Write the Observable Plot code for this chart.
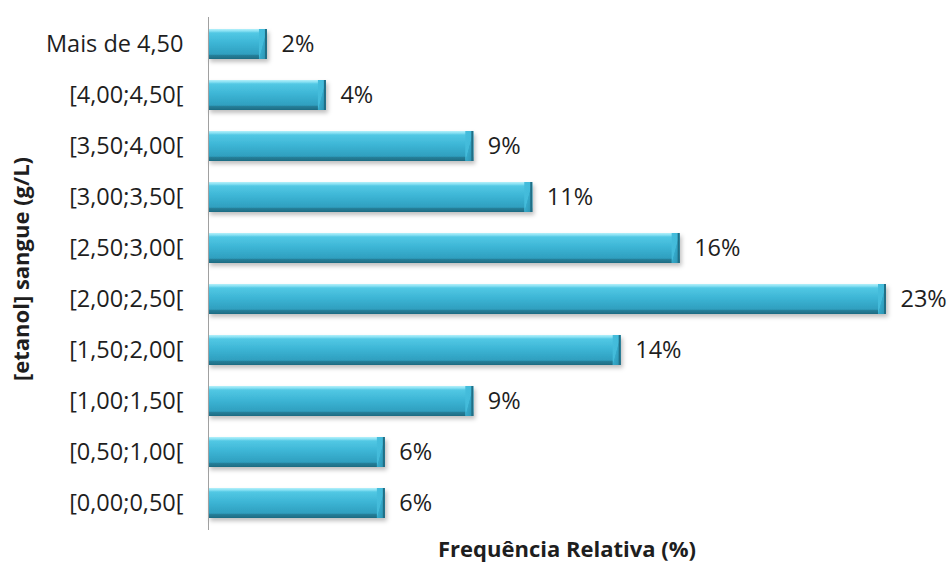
<!DOCTYPE html>
<html>
<head>
<meta charset="utf-8">
<script src="https://cdn.jsdelivr.net/npm/d3@7"></script>
<script src="https://cdn.jsdelivr.net/npm/@observablehq/plot@0.6"></script>
<style>
  body { margin: 0; background: #fff; }
  #chart svg { display: block; }
</style>
</head>
<body>
<div id="chart"></div>
<script>
// Blood ethanol concentration classes (g/L), top to bottom
const classes = [
  "Mais de 4,50",
  "[4,00;4,50[",
  "[3,50;4,00[",
  "[3,00;3,50[",
  "[2,50;3,00[",
  "[2,00;2,50[",
  "[1,50;2,00[",
  "[1,00;1,50[",
  "[0,50;1,00[",
  "[0,00;0,50["
];
// Relative frequency (%) per class
const frequencies = [2, 4, 9, 11, 16, 23, 14, 9, 6, 6];

const xTitle = "Frequência Relativa (%)";
const yTitle = "[etanol] sangue (g/L)";

const data = classes.map((c, i) => ({classe: c, freq: frequencies[i]}));

const font = "'Open Sans', sans-serif";
const fs = 23.5;   // tick and value labels
const fsTitle = 22; // axis titles

const chart = Plot.plot({
  width: 950,
  height: 565,
  marginLeft: 208,
  marginRight: 64,
  marginTop: 17,
  marginBottom: 35,
  style: {fontFamily: font, fontSize: fs + "px", color: "#1e1e1e", background: "#fff"},
  x: {domain: [0, 23], axis: null},
  y: {domain: classes, paddingInner: 0.41, paddingOuter: 0.205, label: null},
  marks: [
    // bar body with bevelled vertical shading
    Plot.barX(data, {y: "classe", x: "freq", fill: "url(#barBody)"}),
    // bevelled right-hand end
    Plot.barX(data, {y: "classe", x1: "freq", x2: "freq", insetLeft: -8, fill: "url(#barCap)"}),
    Plot.barX(data, {y: "classe", x1: "freq", x2: "freq", insetLeft: -2, fill: "#216f86"}),
    Plot.ruleX([0], {stroke: "#a0a0a0", strokeWidth: 1}),
    Plot.axisY({tickSize: 0, tickPadding: 25, fontSize: fs, label: null}),
    Plot.text(data, {
      y: "classe", x: "freq", text: d => `${d.freq}%`,
      textAnchor: "start", dx: 14, fontSize: fs, fill: "#1e1e1e"
    })
  ]
});

// gradients and drop shadow for the bars
const svg = d3.select(chart);
const defs = svg.insert("defs", ":first-child");

const body = defs.append("linearGradient")
  .attr("id", "barBody").attr("x1", 0).attr("y1", 0).attr("x2", 0).attr("y2", 1);
[
  [0, "#b4f0fa"], [0.07, "#86e0f3"], [0.13, "#52c8e4"], [0.45, "#3db6d6"],
  [0.84, "#2f9fbf"], [0.88, "#257f99"], [1, "#1e6b82"]
].forEach(([o, c]) => body.append("stop").attr("offset", o).attr("stop-color", c));

const cap = defs.append("linearGradient")
  .attr("id", "barCap").attr("x1", 0).attr("y1", 0).attr("x2", 1).attr("y2", 1);
[
  [0, "#45bddc"], [0.48, "#43bbda"], [0.52, "#35a9ca"], [0.85, "#2d96b4"], [1, "#236f86"]
].forEach(([o, c]) => cap.append("stop").attr("offset", o).attr("stop-color", c));

const shadow = defs.append("filter").attr("id", "barShadow")
  .attr("x", "-5%").attr("y", "-20%").attr("width", "115%").attr("height", "160%");
shadow.append("feDropShadow")
  .attr("dx", 2).attr("dy", 3).attr("stdDeviation", 2)
  .attr("flood-color", "#000").attr("flood-opacity", 0.25);

svg.selectAll("g[aria-label='bar']").filter((d, i) => i === 0).attr("filter", "url(#barShadow)");

// axis titles
svg.append("text")
  .attr("x", 567).attr("y", 557)
  .attr("text-anchor", "middle")
  .attr("font-family", font).attr("font-size", fsTitle).attr("font-weight", "bold").attr("fill", "#1e1e1e")
  .text(xTitle);
svg.append("text")
  .attr("transform", "translate(29,269) rotate(-90)")
  .attr("text-anchor", "middle")
  .attr("font-family", font).attr("font-size", fsTitle).attr("font-weight", "bold").attr("fill", "#1e1e1e")
  .text(yTitle);

document.getElementById("chart").appendChild(chart);
</script>
</body>
</html>
